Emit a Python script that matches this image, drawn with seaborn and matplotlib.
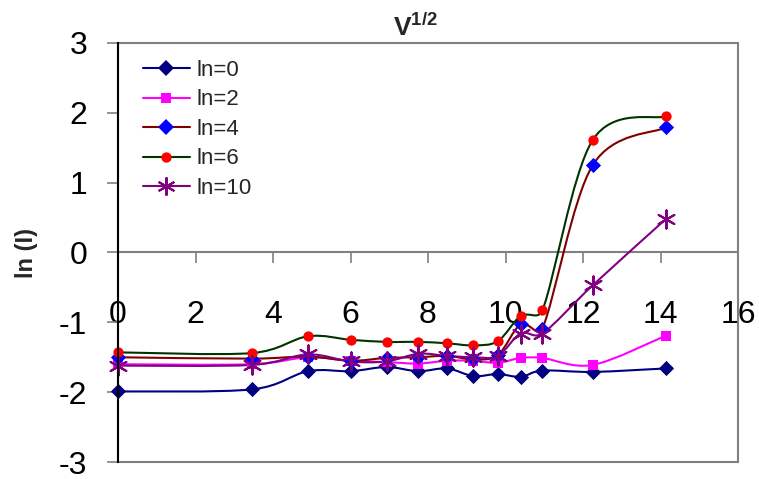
import numpy as np
import pandas as pd
import matplotlib
matplotlib.use("Agg")
import matplotlib.pyplot as plt
from matplotlib.path import Path
from matplotlib.patches import PathPatch, Rectangle
from matplotlib.lines import Line2D
import seaborn as sns

# ---- data ----
x_vals = [0, 3.46, 4.90, 6.00, 6.93, 7.75, 8.49, 9.17, 9.80, 10.39, 10.95, 12.25, 14.14]
ln0 = [-1.99, -1.96, -1.70, -1.70, -1.64, -1.70, -1.66, -1.77, -1.74, -1.78, -1.69, -1.71, -1.66]
ln2 = [-1.60, -1.60, -1.50, -1.55, -1.57, -1.59, -1.55, -1.55, -1.58, -1.51, -1.51, -1.61, -1.19]
ln4 = [-1.50, -1.52, -1.49, -1.55, -1.51, -1.50, -1.48, -1.53, -1.47, -1.03, -1.09, 1.25, 1.79]
ln6 = [-1.43, -1.44, -1.20, -1.25, -1.28, -1.28, -1.30, -1.33, -1.27, -0.91, -0.83, 1.61, 1.95]
ln10 = [-1.62, -1.61, -1.46, -1.56, -1.56, -1.45, -1.48, -1.50, -1.48, -1.16, -1.16, -0.47, 0.48]
series_names = ["ln=0", "ln=2", "ln=4", "ln=6", "ln=10"]
x_ticks = [0, 2, 4, 6, 8, 10, 12, 14, 16]
y_ticks = [-3, -2, -1, 0, 1, 2, 3]

series_values = [ln0, ln2, ln4, ln6, ln10]
line_colors = ["#000080", "#FF00FF", "#800000", "#003300", "#800080"]
marker_colors = ["#000080", "#FF00FF", "#0000FF", "#FF0000", "#800080"]
markers = ["D", "s", "D", "o", (6, 2, 0)]
marker_sizes = [60, 45, 60, 55, 170]

sns.set_theme(style="white")
plt.rcParams["font.family"] = ["Liberation Sans", "DejaVu Sans"]
plt.rcParams["mathtext.fontset"] = "custom"
plt.rcParams["mathtext.bf"] = "Liberation Sans:bold"
plt.rcParams["mathtext.rm"] = "Liberation Sans"

fig = plt.figure(figsize=(7.59, 4.79), dpi=100)
W, H = 759, 479
ax = fig.add_axes([118 / W, 1 - 462 / H, (738 - 118) / W, (462 - 43) / H])
ax.set_xlim(0, 16)
ax.set_ylim(-3, 3)


def smooth_path(xs, ys):
    """Excel-like smoothed line: cubic Bezier segments (Catmull-Rom tangents,
    1/6 factor) with the control offset capped at half the segment length
    measured on screen, so short segments do not overshoot."""
    pts = np.column_stack([xs, ys]).astype(float)
    to_scr = ax.transData
    scr = to_scr.transform(pts)
    n = len(pts)

    def offset(vec_scr, seg_len):
        ln = np.hypot(*vec_scr)
        cap = 0.5 * seg_len
        if ln > cap and ln > 0:
            vec_scr = vec_scr * cap / ln
        return vec_scr

    verts_scr = [scr[0]]
    codes = [Path.MOVETO]
    for i in range(n - 1):
        s1, s2 = scr[i], scr[i + 1]
        s0 = scr[i - 1] if i > 0 else scr[i]
        s3 = scr[i + 2] if i + 2 < n else scr[i + 1]
        seg = np.hypot(*(s2 - s1))
        c1 = s1 + offset((s2 - s0) / 6.0, seg)
        c2 = s2 - offset((s3 - s1) / 6.0, seg)
        verts_scr += [c1, c2, s2]
        codes += [Path.CURVE4] * 3
    verts = to_scr.inverted().transform(np.array(verts_scr))
    return Path(verts, codes)


df = pd.DataFrame({"x": x_vals})
for name, vals in zip(series_names, series_values):
    df[name] = vals

handles = []
for k, name in enumerate(series_names):
    path = smooth_path(df["x"].values, df[name].values)
    ax.add_patch(PathPatch(path, facecolor="none", edgecolor=line_colors[k],
                           lw=1.5, zorder=3 + k * 0.1))
for k, name in enumerate(series_names):
    m = markers[k]
    kw = dict(x="x", y=name, data=df, ax=ax, marker=m, s=marker_sizes[k],
              color=marker_colors[k], clip_on=False, zorder=5 + k * 0.1, legend=False)
    if isinstance(m, tuple):
        kw.update(linewidth=1.5, edgecolor=marker_colors[k])
    else:
        kw.update(linewidth=0)
    sns.scatterplot(**kw)
    ms = np.sqrt(marker_sizes[k])
    handles.append(Line2D([0], [0], color=line_colors[k], lw=1.5, marker=m,
                          markersize=ms, markerfacecolor=marker_colors[k],
                          markeredgecolor=marker_colors[k],
                          markeredgewidth=(1.5 if isinstance(m, tuple) else 0)))

# spines / frame
for s in ["top", "right"]:
    ax.spines[s].set_visible(False)
ax.spines["left"].set_color("black")
ax.spines["left"].set_linewidth(1.5)
ax.spines["left"].set_zorder(6)
ax.spines["bottom"].set_position(("data", 0))
ax.spines["bottom"].set_color("#808080")
ax.spines["bottom"].set_linewidth(1.5)
ax.add_patch(Rectangle((0, 0), 1, 1, transform=ax.transAxes, fill=False,
                       edgecolor="#808080", lw=1.5, clip_on=False, zorder=1))

ax.set_xticks(x_ticks)
ax.set_yticks(y_ticks)
ax.set_xticklabels([str(t) for t in x_ticks])
ax.set_yticklabels([str(t) for t in y_ticks])
ax.tick_params(axis="x", direction="out", length=8, width=1.2, color="#808080",
               pad=26, labelsize=23, labelcolor="black", bottom=True)
ax.tick_params(axis="y", direction="out", length=8, width=1.2, color="#808080",
               pad=14, labelsize=23, labelcolor="black", left=True)
ax.set_xlabel("")
ax.set_ylabel("")
ax.grid(False)

leg = fig.legend(handles=handles, labels=series_names, loc="upper left",
                 bbox_to_anchor=(143 / W, 1 - 60 / H), frameon=False,
                 fontsize=16, labelspacing=0.38, handlelength=2.1,
                 handletextpad=0.3, borderpad=0, borderaxespad=0)

fig.text(415 / W, 1 - 27 / H, r"$\mathbf{V}^{\mathbf{1/2}}$", ha="center",
         va="center", fontsize=19)
fig.text(27 / W, 1 - 253 / H, "ln (I)", rotation=90, ha="center", va="center",
         fontsize=17, fontweight="bold")

fig.savefig("out.png", dpi=100)
